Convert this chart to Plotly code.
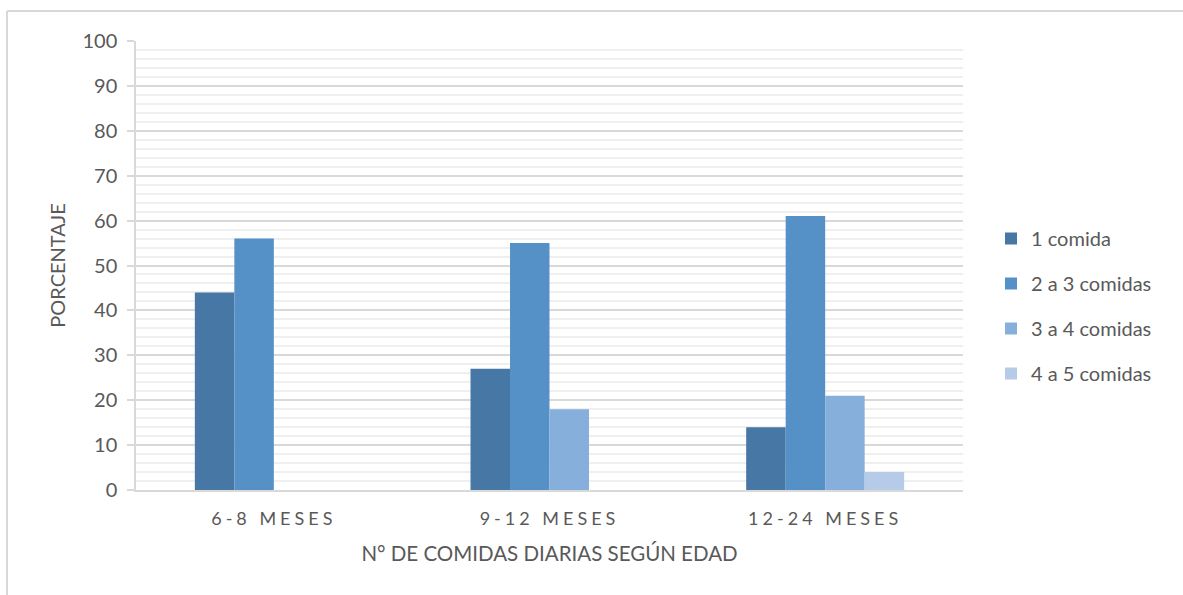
import plotly.graph_objects as go

categories = ["6-8 MESES", "9-12 MESES", "12-24 MESES"]
series_names = ["1 comida", "2 a 3 comidas", "3 a 4 comidas", "4 a 5 comidas"]
v_1 = [44, 27, 14]
v_2a3 = [56, 55, 61]
v_3a4 = [0, 18, 21]
v_4a5 = [0, 0, 4]
colors = ["#4677A5", "#5591C7", "#86AFDB", "#B5CBE7"]

FONT = "Lato"
TXT = "#595959"

fig = go.Figure()
for i, (name, vals) in enumerate(zip(series_names, [v_1, v_2a3, v_3a4, v_4a5])):
    fig.add_trace(go.Bar(
        x=categories, y=vals, name=name,
        marker=dict(color=colors[i], line=dict(width=0)),
        legendgroup=f"g{i}",
    ))

W, H = 1183, 595
L, R, T, B = 136, 220, 41, 105
pw, ph = W - L - R, H - T - B

def px_x(x):
    return (x - L) / pw

def px_y(y):
    return (H - B - y) / ph

fig.update_layout(
    width=W, height=H,
    margin=dict(l=L, r=R, t=T, b=B, autoexpand=False),
    paper_bgcolor="white", plot_bgcolor="white",
    barmode="group", bargap=0.427, bargroupgap=0,
    font=dict(family=FONT, color=TXT, size=20),
    showlegend=True,
    legend=dict(
        x=px_x(991), y=px_y(306), xanchor="left", yanchor="middle",
        font=dict(family=FONT, size=20, color=TXT),
        tracegroupgap=16, traceorder="grouped",
        bgcolor="rgba(0,0,0,0)",
    ),
    xaxis=dict(
        showgrid=False, showline=True, linecolor="#d9d9d9", linewidth=1.5,
        ticks="", tickfont=dict(family=FONT, size=18, color=TXT),
        ticklabelstandoff=12,
        title=dict(text="N° DE COMIDAS DIARIAS SEGÚN EDAD",
                   font=dict(family=FONT, size=20.5, color=TXT), standoff=18),
        fixedrange=True,
    ),
    yaxis=dict(
        range=[0, 100], dtick=10, tick0=0,
        showgrid=True, gridcolor="#d9d9d9", gridwidth=1.5,
        minor=dict(dtick=2, showgrid=True, gridcolor="#efefef", gridwidth=1.5),
        showline=True, linecolor="#d9d9d9", linewidth=1.5,
        ticks="outside", ticklen=7, tickcolor="#d9d9d9", tickwidth=1.5,
        tickfont=dict(family=FONT, size=20, color=TXT),
        ticklabelstandoff=6,
        title=dict(text="PORCENTAJE", font=dict(family=FONT, size=20, color=TXT), standoff=11),
        zeroline=False, fixedrange=True,
    ),
)

# chart-area border (top and left edges visible)
fig.add_shape(type="line", xref="paper", yref="paper",
              x0=px_x(7), x1=px_x(1183), y0=px_y(11), y1=px_y(11),
              line=dict(color="#d9d9d9", width=2), layer="below")
fig.add_shape(type="line", xref="paper", yref="paper",
              x0=px_x(7), x1=px_x(7), y0=px_y(11), y1=px_y(595),
              line=dict(color="#d9d9d9", width=2), layer="below")

post = """
var s=document.createElement('style');
s.innerHTML='.xtick text{letter-spacing:4px;} body{margin:0 !important;}';
document.head.appendChild(s);
document.body.style.margin='0';
"""
fig.write_html("out.html", post_script=post, config={"displayModeBar": False})
